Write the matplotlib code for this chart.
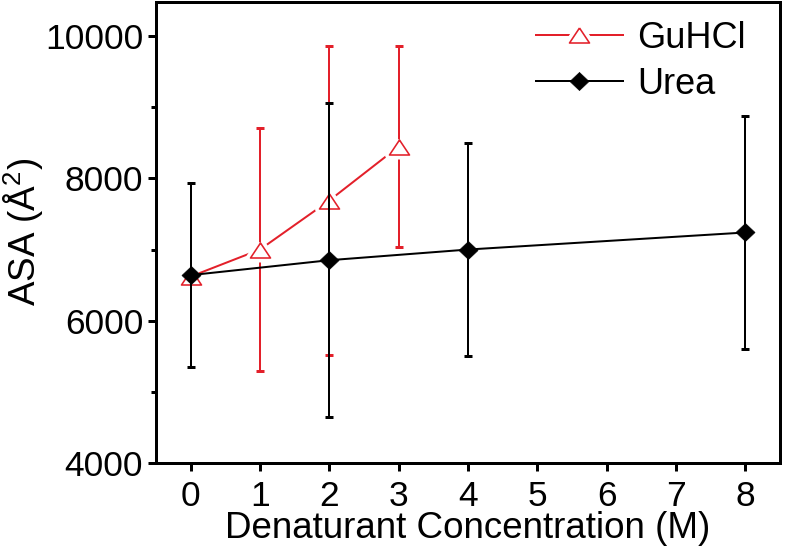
import matplotlib
matplotlib.use("Agg")
import matplotlib.pyplot as plt
from matplotlib.lines import Line2D
from matplotlib.markers import MarkerStyle
from matplotlib.legend_handler import HandlerTuple

# ---- data ----
guhcl_x = [0, 1, 2, 3]
guhcl_y = [6620, 7000, 7690, 8450]
guhcl_err = [0, 1710, 2170, 1420]

urea_x = [0, 2, 4, 8]
urea_y = [6640, 6850, 7000, 7240]
urea_err = [1300, 2210, 1500, 1640]

xticks = [0, 1, 2, 3, 4, 5, 6, 7, 8]
yticks = [4000, 6000, 8000, 10000]
labels = ["GuHCl", "Urea"]

RED = "#e3202a"
BLACK = "#000000"

plt.rcParams['font.family'] = ['Liberation Sans', 'DejaVu Sans']
plt.rcParams['mathtext.fontset'] = 'custom'
plt.rcParams['mathtext.rm'] = 'Liberation Sans'
plt.rcParams['mathtext.it'] = 'Liberation Sans'
plt.rcParams['mathtext.default'] = 'regular'

FS_TICK = 25.5
FS_LAB = 26.5
FS_LEG = 26
W, H = 786, 546
fig = plt.figure(figsize=(W / 100, H / 100), dpi=100)
ax = fig.add_axes([156 / W, 1 - 462.7 / H, (780 - 156) / W, (462.7 - 1.7) / H])

px = 0.72  # points per pixel
tri_v = [(0, 0.75), (-1, -0.75), (1, -0.75), (0, 0.75)]
dia_v = [(0, 0.95), (1, 0), (0, -0.95), (-1, 0), (0, 0.95)]
tri = MarkerStyle(tri_v, joinstyle='miter')
tri_halo = MarkerStyle(tri_v, joinstyle='round')
dia = MarkerStyle(dia_v, joinstyle='miter')

# GuHCl line
ax.plot(guhcl_x, guhcl_y, color=RED, lw=2 * px, zorder=2)
# GuHCl error bars (points with a drawn bar only)
gx = [x for x, e in zip(guhcl_x, guhcl_err) if e > 0]
gy = [y for y, e in zip(guhcl_y, guhcl_err) if e > 0]
ge = [e for e in guhcl_err if e > 0]
ax.errorbar(gx, gy, yerr=ge, fmt='none', ecolor=RED, elinewidth=2 * px,
            capsize=3, capthick=3 * px, zorder=2)
# white halo around open triangles (gap in the line)
ax.plot(guhcl_x, guhcl_y, ls='none', marker=tri_halo, ms=20 * px, mfc='white', mec='white',
        mew=9 * px, zorder=3)
ax.plot(guhcl_x, guhcl_y, ls='none', marker=tri, ms=20 * px, mfc='white', mec=RED,
        mew=1.6 * px, zorder=4)

# Urea
ax.plot(urea_x, urea_y, color=BLACK, lw=2 * px, zorder=5)
ax.errorbar(urea_x, urea_y, yerr=urea_err, fmt='none', ecolor=BLACK, elinewidth=2 * px,
            capsize=3, capthick=3 * px, zorder=5)
ax.plot(urea_x, urea_y, ls='none', marker=dia, ms=19 * px, mfc=BLACK, mec=BLACK,
        mew=0.5, zorder=6)

ax.set_xlim(-0.5, 8.5)
ax.set_ylim(4000, 10488)
ax.set_xticks(xticks)
ax.set_xticklabels([str(t) for t in xticks])
ax.set_yticks(yticks)
ax.set_yticks([5000, 7000, 9000], minor=True)

for s in ax.spines.values():
    s.set_linewidth(3 * px)
ax.tick_params(axis='both', which='major', direction='out', length=8 * px, width=3 * px,
               labelsize=FS_TICK, top=False, right=False)
ax.tick_params(axis='x', which='major', pad=7)
ax.tick_params(axis='y', which='major', pad=3.5)
ax.tick_params(axis='y', which='minor', direction='out', length=5 * px, width=3 * px,
               right=False)

ax.set_xlabel("Denaturant Concentration (M)", fontsize=FS_LAB)
ax.xaxis.label.set_va('baseline')
ax.xaxis.set_label_coords(0.5, (462.7 - 538) / 461)
ax.set_ylabel("ASA (Å$^{2}$)", fontsize=FS_LAB)
ax.yaxis.set_label_coords(-0.176, 0.5)

# legend
h_g = (Line2D([], [], color=RED, lw=2 * px),
       Line2D([], [], ls='none', marker=tri_halo, ms=20 * px, mfc='white', mec='white', mew=9 * px),
       Line2D([], [], ls='none', marker=tri, ms=20 * px, mfc='white', mec=RED, mew=1.6 * px))
h_u = (Line2D([], [], color=BLACK, lw=2 * px),
       Line2D([], [], ls='none', marker=dia, ms=19 * px, mfc=BLACK, mec=BLACK, mew=0.5))
fig.legend([h_g, h_u], labels, handler_map={tuple: HandlerTuple(ndivide=1, pad=0)},
           loc='upper left', bbox_to_anchor=(536 / W, 1 - 21 / H), frameon=False,
           fontsize=FS_LEG, handlelength=2.4, handletextpad=0.4, labelspacing=0.3,
           borderpad=0, borderaxespad=0)

fig.savefig("out.png", dpi=100)
